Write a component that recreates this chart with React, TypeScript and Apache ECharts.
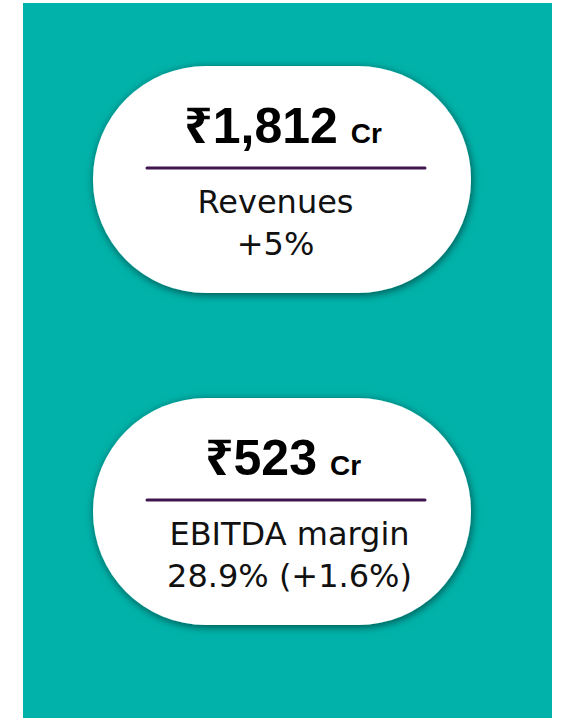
import React, { useEffect, useRef } from "react";
import * as echarts from "echarts";

const values = ["₹1,812", "₹523"];
const units = ["Cr", "Cr"];
const labels = ["Revenues", "EBITDA margin"];
const changes = ["+5%", "28.9% (+1.6%)"];

const TEAL = "#00B2A9";
const PURPLE = "#3F1650";
const HEAD_FONT = "'Liberation Sans', Arial, 'Noto Sans', sans-serif";
const BODY_FONT = "'DejaVu Sans', 'Noto Sans', sans-serif";

function measure(text: string, font: string): number {
  const c = document.createElement("canvas").getContext("2d");
  if (!c) return text.length * 20;
  c.font = font;
  return c.measureText(text).width;
}

export default function App() {
  const ref = useRef<HTMLDivElement>(null);
  useEffect(() => {
    if (!ref.current) return;
    const chart = echarts.init(ref.current, undefined, { renderer: "svg" });
    const tops = [66, 398];
    const labelCx = [275.5, 289.5];
    const cx = 283;
    const numSize = 50;
    const unitSize = 28;
    const gap = 13;
    const bodySize = 32;
    const central = 0.346;
    const elements: any[] = [
      { type: "rect", shape: { x: 23, y: 3, width: 529, height: 715 }, style: { fill: TEAL }, z: 0 },
    ];
    values.forEach((v, i) => {
      const top = tops[i];
      elements.push({
        type: "rect",
        shape: { x: 93, y: top, width: 378, height: 227, r: 113 },
        style: {
          fill: "#ffffff",
          shadowBlur: 8,
          shadowColor: "rgba(0,0,0,0.55)",
          shadowOffsetX: 1,
          shadowOffsetY: 2,
        },
        z: 1,
      });
      const wNum = measure(v, `bold ${numSize}px ${HEAD_FONT}`);
      const wUnit = measure(units[i], `bold ${unitSize}px ${HEAD_FONT}`);
      const left = cx - (wNum + gap + wUnit) / 2;
      const baseline = top + 77.5;
      elements.push({
        type: "text",
        x: left,
        y: baseline - central * numSize,
        style: {
          text: v,
          align: "left",
          verticalAlign: "middle",
          fontFamily: HEAD_FONT,
          fontWeight: "bold",
          fontSize: numSize,
          fill: "#000",
        },
        z: 2,
      });
      elements.push({
        type: "text",
        x: left + wNum + gap,
        y: baseline - central * unitSize,
        style: {
          text: units[i],
          align: "left",
          verticalAlign: "middle",
          fontFamily: HEAD_FONT,
          fontWeight: "bold",
          fontSize: unitSize,
          fill: "#000",
        },
        z: 2,
      });
      elements.push({
        type: "line",
        shape: { x1: 147, y1: top + 102, x2: 425, y2: top + 102 },
        style: { stroke: PURPLE, lineWidth: 3, lineCap: "round" },
        z: 2,
      });
      [labels[i], changes[i]].forEach((t, j) => {
        elements.push({
          type: "text",
          x: labelCx[i],
          y: top + 147.5 + j * 41.5 - central * bodySize,
          style: {
            text: t,
            align: "center",
            verticalAlign: "middle",
            fontFamily: BODY_FONT,
            fontSize: bodySize,
            fill: "#111",
          },
          z: 2,
        });
      });
    });
    chart.setOption({ animation: false, graphic: { elements } });
    return () => chart.dispose();
  }, []);
  return <div ref={ref} style={{ position: "absolute", left: 0, top: 0, width: 562, height: 718 }} />;
}
